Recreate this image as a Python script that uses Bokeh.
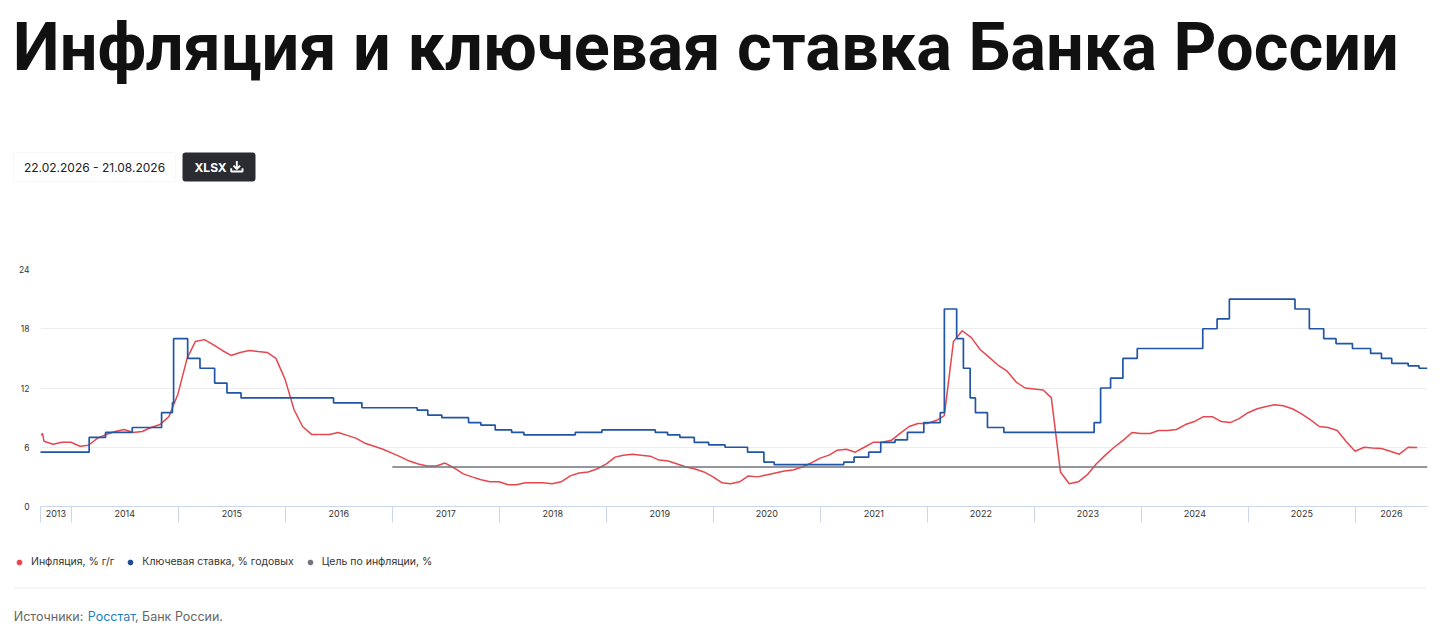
import pandas as pd
from bokeh.plotting import figure
from bokeh.layouts import column
from bokeh.models import (Range1d, FixedTicker, Label, BoxAnnotation, PolyAnnotation,
                          Legend, LegendItem)
from bokeh.embed import file_html
from bokeh.resources import INLINE

# ---------------- data ----------------
TITLE = "Инфляция и ключевая ставка Банка России"
DATE_RANGE = "22.02.2026 - 21.08.2026"
BUTTON = "XLSX"
SERIES_NAMES = ["Инфляция, % г/г", "Ключевая ставка, % годовых", "Цель по инфляции, %"]
SOURCE_PARTS = ["Источники:", "Росстат", ", Банк России."]

x_start = "2013-09-18"
x_end = "2026-09-04"

rate_dates = [
    "2013-09-13", "2014-03-03", "2014-04-28", "2014-07-28", "2014-11-05", "2014-12-12",
    "2014-12-16", "2015-02-02", "2015-03-16", "2015-05-05", "2015-06-16", "2015-08-03",
    "2016-06-14", "2016-09-19", "2017-03-27", "2017-05-02", "2017-06-19", "2017-09-18",
    "2017-10-30", "2017-12-18", "2018-02-12", "2018-03-26", "2018-09-17", "2018-12-17",
    "2019-06-17", "2019-07-29", "2019-09-09", "2019-10-28", "2019-12-16", "2020-02-10",
    "2020-04-27", "2020-06-22", "2020-07-27", "2021-03-22", "2021-04-26", "2021-06-15",
    "2021-07-26", "2021-09-13", "2021-10-25", "2021-12-20", "2022-02-14", "2022-02-28",
    "2022-04-11", "2022-05-04", "2022-05-27", "2022-06-14", "2022-07-25", "2022-09-19",
    "2023-07-24", "2023-08-15", "2023-09-18", "2023-10-30", "2023-12-18", "2024-07-29",
    "2024-09-16", "2024-10-28", "2025-06-09", "2025-07-28", "2025-09-15", "2025-10-27",
    "2025-12-22", "2026-02-22", "2026-03-31", "2026-05-05", "2026-06-30", "2026-08-06",
]
rate_values = [
    5.5, 7.0, 7.5, 8.0, 9.5, 10.5,
    17.0, 15.0, 14.0, 12.5, 11.5, 11.0,
    10.5, 10.0, 9.75, 9.25, 9.0, 8.5,
    8.25, 7.75, 7.5, 7.25, 7.5, 7.75,
    7.5, 7.25, 7.0, 6.5, 6.25, 6.0,
    5.5, 4.5, 4.25, 4.5, 5.0, 5.5,
    6.5, 6.75, 7.5, 8.5, 9.5, 20.0,
    17.0, 14.0, 11.0, 9.5, 8.0, 7.5,
    8.5, 12.0, 13.0, 15.0, 16.0, 18.0,
    19.0, 21.0, 20.0, 18.0, 17.0, 16.5,
    16.0, 15.5, 15.0, 14.5, 14.25, 14.0,
]

# first readings (irregular), then monthly readings from Oct 2013
infl_head_dates = ["2013-09-20", "2013-09-25", "2013-09-30"]
infl_head_values = [7.2, 7.4, 6.6]
infl_monthly_start = "2013-10-01"
infl_2013 = [6.3, 6.5, 6.5]
infl_2014 = [6.1, 6.2, 6.9, 7.3, 7.6, 7.8, 7.5, 7.6, 8.0, 8.3, 9.1, 11.4]
infl_2015 = [15.0, 16.7, 16.9, 16.4, 15.8, 15.3, 15.6, 15.8, 15.7, 15.6, 15.0, 12.9]
infl_2016 = [9.8, 8.1, 7.3, 7.3, 7.3, 7.5, 7.2, 6.9, 6.4, 6.1, 5.8, 5.4]
infl_2017 = [5.0, 4.6, 4.3, 4.1, 4.1, 4.4, 3.9, 3.3, 3.0, 2.7, 2.5, 2.5]
infl_2018 = [2.2, 2.2, 2.4, 2.4, 2.4, 2.3, 2.5, 3.1, 3.4, 3.5, 3.8, 4.3]
infl_2019 = [5.0, 5.2, 5.3, 5.2, 5.1, 4.7, 4.6, 4.3, 4.0, 3.8, 3.5, 3.0]
infl_2020 = [2.4, 2.3, 2.5, 3.1, 3.0, 3.2, 3.4, 3.6, 3.7, 4.0, 4.4, 4.9]
infl_2021 = [5.2, 5.7, 5.8, 5.5, 6.0, 6.5, 6.5, 6.7, 7.4, 8.1, 8.4, 8.4]
infl_2022 = [8.7, 9.2, 16.7, 17.8, 17.1, 15.9, 15.1, 14.3, 13.7, 12.6, 12.0, 11.9]
infl_2023 = [11.8, 11.0, 3.5, 2.3, 2.5, 3.2, 4.3, 5.2, 6.0, 6.7, 7.5, 7.4]
infl_2024 = [7.4, 7.7, 7.7, 7.8, 8.3, 8.6, 9.1, 9.1, 8.6, 8.5, 8.9, 9.5]
infl_2025 = [9.9, 10.1, 10.3, 10.2, 9.9, 9.4, 8.8, 8.1, 8.0, 7.7, 6.6, 5.6]
infl_2026 = [6.0, 5.93, 5.87, 5.6, 5.3, 6.0, 5.98]

target_start = "2017-01-01"
target_value = 4.0

y_ticks = [0, 6, 12, 18, 24]
year_labels = ["2013", "2014", "2015", "2016", "2017", "2018", "2019", "2020",
               "2021", "2022", "2023", "2024", "2025", "2026"]

# ---------------- helpers ----------------
def fy(d):
    d = pd.Timestamp(d)
    y0 = pd.Timestamp(year=d.year, month=1, day=1)
    y1 = pd.Timestamp(year=d.year + 1, month=1, day=1)
    return d.year + (d - y0) / (y1 - y0)

X0, X1 = fy(x_start), fy(x_end)

infl_monthly = (infl_2013 + infl_2014 + infl_2015 + infl_2016 + infl_2017 + infl_2018 +
                infl_2019 + infl_2020 + infl_2021 + infl_2022 + infl_2023 + infl_2024 +
                infl_2025 + infl_2026)
month_ends = pd.date_range(infl_monthly_start, periods=len(infl_monthly), freq="ME")
infl_x = [fy(d) for d in infl_head_dates] + [fy(d) for d in month_ends]
infl_y = infl_head_values + infl_monthly

rate_x = [fy(d) for d in rate_dates] + [X1]
rate_y = rate_values + [rate_values[-1]]

RED = "#e5474e"
BLUE = "#2155a6"
GREY = "#71737d"
FONT = "Inter"
W = 1440
TOP_H, CHART_H, BOT_H = 200, 340, 90   # page bands: 0-200, 200-540, 540-630


def blank(height, y0):
    """A figure whose data units are page pixels (y grows downward)."""
    f = figure(width=W, height=height, output_backend="svg", toolbar_location=None,
               x_range=Range1d(0, W), y_range=Range1d(y0 + height, y0),
               min_border=0, min_border_left=0, min_border_right=0,
               min_border_top=0, min_border_bottom=0, frame_align=False)
    f.axis.visible = False
    f.grid.visible = False
    f.outline_line_color = None
    f.background_fill_color = "white"
    f.border_fill_color = "white"
    return f

# ---------------- top band: title and controls ----------------
top = blank(TOP_H, 0)
top.add_layout(Label(x=12.5, y=46.5, text=TITLE, text_font="Roboto", text_font_size="66.7px",
                     text_font_style="bold", text_color="#111111", text_baseline="middle"))
top.add_layout(BoxAnnotation(left=13, right=175, top=152, bottom=181,
                             fill_color="white", fill_alpha=1, line_color="#e4e4e4",
                             line_width=1, border_radius=2))
top.add_layout(Label(x=94, y=166.5, text=DATE_RANGE, text_font=FONT, text_font_size="12px",
                     text_color="#222222", text_align="center", text_baseline="middle"))
top.add_layout(BoxAnnotation(left=182, right=255, top=152, bottom=181,
                             fill_color="#2a2c32", fill_alpha=1, line_color=None,
                             border_radius=3))
top.add_layout(Label(x=194, y=166.5, text=BUTTON, text_font=FONT, text_font_size="12px",
                     text_font_style="bold", text_color="white", text_baseline="middle"))
for xs_, ys_ in [([236.3, 236.3], [160.5, 168.5]),
                 ([233.0, 236.3, 239.6, 236.3], [165.2, 168.5, 165.2, 168.5]),
                 ([230.7, 230.7, 242.0, 242.0, 242.0, 230.7],
                  [167.8, 171.0, 171.0, 167.8, 171.0, 171.0])]:
    top.add_layout(PolyAnnotation(xs=xs_, ys=ys_, fill_alpha=0, line_color="#ffffff",
                                  line_width=1.9, line_alpha=1))

# ---------------- chart ----------------
p = figure(width=W, height=CHART_H, output_backend="svg", toolbar_location=None,
           x_range=Range1d(X0, X1), y_range=Range1d(0, 24), frame_align=False,
           min_border_left=40, min_border_right=W - 1427,
           min_border_top=269 - TOP_H, min_border_bottom=TOP_H + CHART_H - 506)
p.outline_line_color = None
p.background_fill_color = "white"
p.border_fill_color = "white"

seps = [round(X0, 6)] + [round(float(int(y)), 6) for y in year_labels[1:]] + [round(X1, 6)]
mids = [round((seps[i] + seps[i + 1]) / 2, 6) for i in range(len(seps) - 1)]
p.xaxis.ticker = FixedTicker(ticks=mids, minor_ticks=seps)
p.xaxis.major_label_overrides = {m: lab for m, lab in zip(mids, year_labels)}
p.xaxis.major_tick_out = 0
p.xaxis.major_tick_in = 0
p.xaxis.minor_tick_out = 16
p.xaxis.minor_tick_in = 0
p.xaxis.minor_tick_line_color = "#ccd6eb"
p.xaxis.axis_line_color = "#ccd6eb"
p.xaxis.major_label_text_font = FONT
p.xaxis.major_label_text_font_size = "9px"
p.xaxis.major_label_text_color = "#333333"
p.xaxis.major_label_standoff = -13

p.yaxis.ticker = FixedTicker(ticks=y_ticks)
p.yaxis.axis_line_color = None
p.yaxis.major_tick_out = 0
p.yaxis.major_tick_in = 0
p.yaxis.minor_tick_out = 0
p.yaxis.minor_tick_in = 0
p.yaxis.major_tick_line_color = None
p.yaxis.minor_tick_line_color = None
p.yaxis.major_label_text_font = FONT
p.yaxis.major_label_text_font_size = "8.5px"
p.yaxis.major_label_text_color = "#333333"
p.yaxis.major_label_standoff = 11

p.xgrid.grid_line_color = None
p.ygrid.grid_line_color = "#ededed"
p.ygrid.ticker = FixedTicker(ticks=y_ticks[1:])

p.line(infl_x, infl_y, line_color=RED, line_width=1.5)
p.step(rate_x, rate_y, mode="after", line_color=BLUE, line_width=1.7)
p.line([fy(target_start), X1], [target_value, target_value], line_color=GREY, line_width=1.4)

# ---------------- bottom band: legend and sources ----------------
bot = blank(BOT_H, TOP_H + CHART_H)
# legend swatches: renderers whose single point lies outside the visible band
off = dict(x=[-9999], y=[-9999])
d1 = bot.scatter(marker="circle", size=5, fill_color=RED, line_color=RED, **off)
d2 = bot.scatter(marker="circle", size=5, fill_color="#1a4a9a", line_color="#1a4a9a", **off)
d3 = bot.scatter(marker="circle", size=5, fill_color=GREY, line_color=GREY, **off)
legend = Legend(items=[LegendItem(label=SERIES_NAMES[0], renderers=[d1]),
                       LegendItem(label=SERIES_NAMES[1], renderers=[d2]),
                       LegendItem(label=SERIES_NAMES[2], renderers=[d3])],
                location=(13, TOP_H + CHART_H + BOT_H - 568), orientation="horizontal",
                padding=0, margin=0, spacing=10, label_standoff=6,
                glyph_width=12, glyph_height=12, label_height=12,
                label_text_font=FONT, label_text_font_size="10.5px",
                label_text_color="#333333", border_line_color=None,
                background_fill_alpha=0)
bot.add_layout(legend)
bot.add_layout(BoxAnnotation(left=13, right=1426, top=587, bottom=588,
                             fill_color="#eeeeee", fill_alpha=1, line_color=None))
for txt, x0, col in zip(SOURCE_PARTS, [13.3, 87.3, 134.5], ["#666666", "#1b7fc4", "#666666"]):
    bot.add_layout(Label(x=x0, y=616.3, text=txt, text_font=FONT, text_font_size="12.5px",
                         text_color=col, text_baseline="middle"))

page = column(top, p, bot, spacing=0)
open("out.html", "w").write(file_html(page, INLINE))
